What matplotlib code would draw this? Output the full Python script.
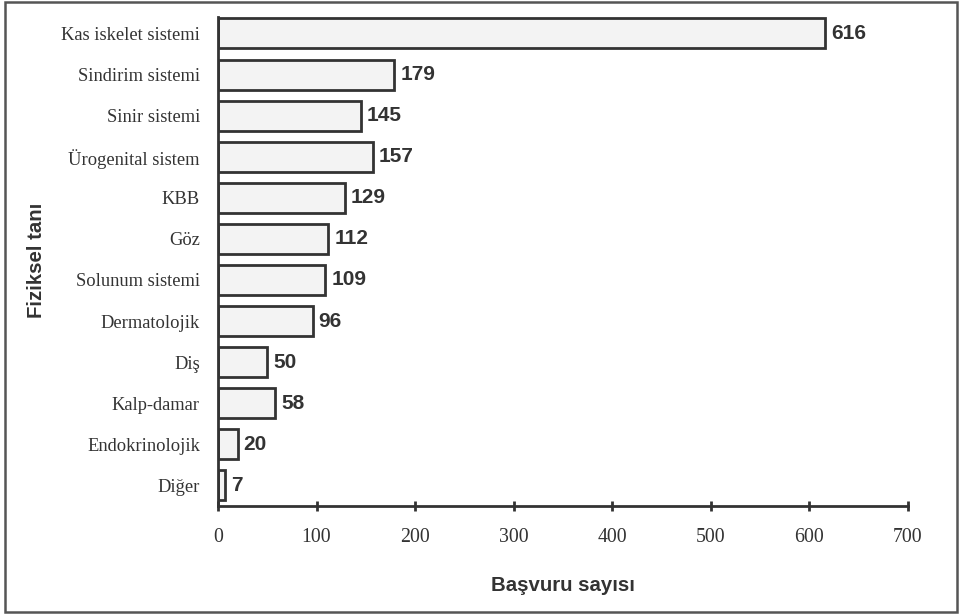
import matplotlib
matplotlib.use('Agg')
import matplotlib.pyplot as plt
from matplotlib.patches import Rectangle

# Başvuru sayıları, fiziksel tanıya göre
categories = ["Kas iskelet sistemi", "Sindirim sistemi", "Sinir sistemi",
              "Ürogenital sistem", "KBB", "Göz", "Solunum sistemi",
              "Dermatolojik", "Diş", "Kalp-damar", "Endokrinolojik", "Diğer"]
counts = [616, 179, 145, 157, 129, 112, 109, 96, 50, 58, 20, 7]
xticks = [0, 100, 200, 300, 400, 500, 600, 700]

ink = "#333333"

fig = plt.figure(figsize=(9.61, 6.16), dpi=100)
ax = fig.add_axes([0.2268, 0.1786, 0.7180, 0.7938])

pos = list(range(len(categories)))
ax.barh(pos, counts, height=0.73, color="#f3f3f3", edgecolor=ink, linewidth=2)

for y, v in zip(pos, counts):
    ax.text(v + 6, y, str(v), va="center", ha="left", fontsize=15,
            fontweight="bold", family="Liberation Sans", color=ink)

ax.set_xlim(0, 700)
ax.set_ylim(11.5, -0.4)
ax.set_yticks(pos)
ax.set_yticklabels(categories, family="Liberation Serif", fontsize=13.3, color=ink)
ax.set_xticks(xticks)
ax.set_xticklabels([str(t) for t in xticks], family="Liberation Serif",
                   fontsize=14.3, color=ink)
ax.tick_params(axis="y", length=0, pad=13)
ax.tick_params(axis="x", direction="inout", length=7, width=2, color=ink, pad=12)

for side in ("top", "right"):
    ax.spines[side].set_visible(False)
for side in ("left", "bottom"):
    ax.spines[side].set_linewidth(2)
    ax.spines[side].set_color(ink)

ax.set_xlabel("Başvuru sayısı", family="Liberation Sans", fontweight="bold",
              fontsize=14.7, color=ink, labelpad=21)
fig.text(0.0385, 0.578, "Fiziksel tanı", rotation=90, va="center", ha="center",
         family="Liberation Sans", fontweight="bold", fontsize=14.7, color=ink)

# outer frame around the whole figure
fig.patches.append(Rectangle((5 / 961, 4 / 616), 952 / 961, 610 / 616,
                             transform=fig.transFigure, fill=False,
                             edgecolor="#555555", linewidth=1.8))

fig.savefig("out.png", dpi=100)
plt.close(fig)
